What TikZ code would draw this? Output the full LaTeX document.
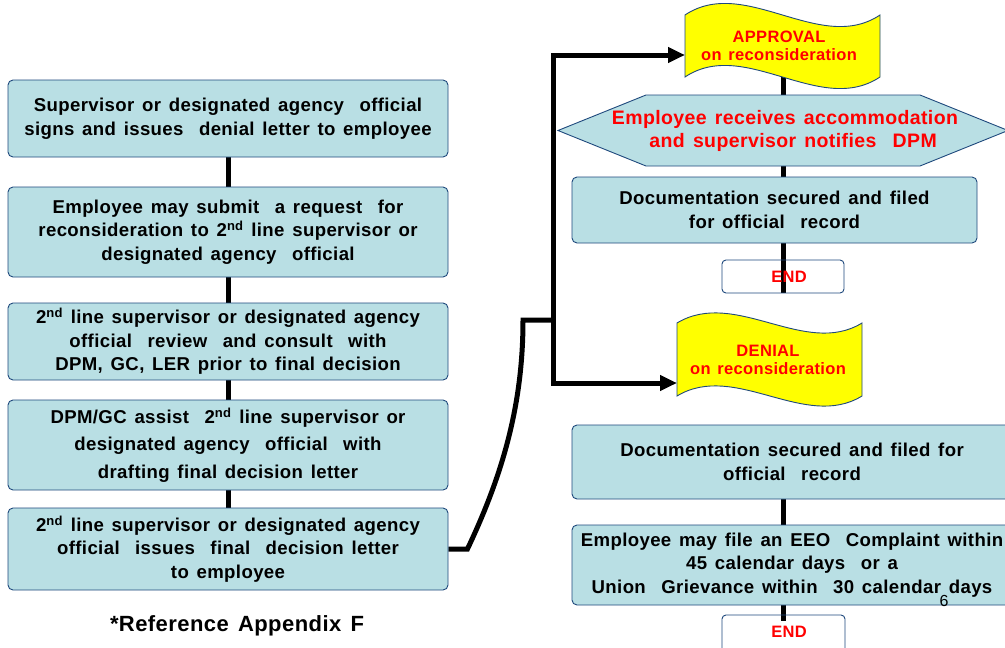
\documentclass[tikz,border=0pt]{standalone}
\usepackage{fontspec}
\setmainfont{Liberation Sans}
\newfontfamily\bx{Liberation Sans}[WordSpace=1.4,LetterSpace=2.0]
\usetikzlibrary{arrows.meta}
\pgfdeclarelayer{paper}
\pgfdeclarelayer{background}
\pgfsetlayers{paper,background,main}
\definecolor{boxfill}{RGB}{185,223,228}
\definecolor{boxline}{RGB}{31,73,125}
\definecolor{flagyel}{RGB}{255,255,0}
\definecolor{txtred}{RGB}{255,0,0}
\begin{document}
\begin{tikzpicture}[x=1pt,y=-1pt,
  proc/.style={draw=boxline,line width=0.9pt,fill=boxfill,rounded corners=5pt,inner sep=0pt,align=center,font=\bx\fontsize{18.6}{23.5}\selectfont\bfseries},
  endbox/.style={draw=boxline,line width=0.9pt,rounded corners=4pt,inner sep=0pt},
  endtxt/.style={text=txtred,inner sep=0pt,font=\bx\fontsize{16.5}{18}\selectfont\bfseries},
  flagbody/.style={draw=boxline,line width=0.9pt,fill=flagyel},
  flagtxt/.style={text=txtred,align=center,inner sep=0pt,font=\bx\fontsize{16.5}{18}\selectfont\bfseries},
  conn/.style={line width=5pt,draw=black},
  tip/.style={-{Triangle[length=17pt,width=15pt]}}
]
\useasboundingbox (0,0) rectangle (1005,648);
\begin{pgfonlayer}{paper}
\fill[white] (0,0) rectangle (1005,648);
\end{pgfonlayer}
\clip (0,0) rectangle (1005,648);

% left column
\node[proc,minimum width=440pt,minimum height=77pt] (b1) at (228,118.5)
  {Supervisor or designated agency\ \ official\\signs and issues\ \ denial letter to employee};
\node[proc,minimum width=440pt,minimum height=90pt] (b2) at (228,232)
  {Employee may submit\ \ a request\ \ for\\reconsideration to 2\textsuperscript{nd} line supervisor or\\designated agency\ \ official};
\node[proc,minimum width=440pt,minimum height=77pt] (b3) at (228,341.5)
  {2\textsuperscript{nd} line supervisor or designated agency\\official\ \ review\ \ and consult\ \ with\\DPM, GC, LER prior to final decision};
\node[proc,minimum width=440pt,minimum height=90pt,font=\bx\fontsize{18.6}{27.5}\selectfont\bfseries] (b4) at (228,445)
  {DPM/GC assist\ \ 2\textsuperscript{nd} line supervisor or\\designated agency\ \ official\ \ with\\drafting final decision letter};
\node[proc,minimum width=440pt,minimum height=82pt] (b5) at (228,549)
  {2\textsuperscript{nd} line supervisor or designated agency\\official\ \ issues\ \ final\ \ decision letter\\to employee};
\node[font=\bx\fontsize{22}{24}\selectfont\bfseries,inner sep=0pt] (ref) at (237,626) {*Reference Appendix F};

% approval flag
\filldraw[flagbody] (685,15) .. controls (745,-25) and (820,55) .. (880,15)
  -- (880,77) .. controls (820,117) and (745,37) .. (685,77) -- cycle;
\node[flagtxt] (appr) at (779,46) {APPROVAL\\on reconsideration};
\coordinate (apin) at (685,55);

% hexagon
\filldraw[draw=boxline,line width=0.9pt,fill=boxfill]
  (558,130.5) -- (646,95) -- (920,95) -- (1008,130.5) -- (920,166) -- (646,166) -- cycle;
\node[minimum width=450pt,minimum height=71pt,inner sep=0pt,align=center,text=txtred,
  font=\bx\fontsize{19.5}{23.5}\selectfont\bfseries] (hex) at (785,131)
  {Employee receives accommodation\\\ \ and supervisor notifies\ \ DPM};

\node[proc,minimum width=405pt,minimum height=66pt] (d1) at (774.5,210)
  {Documentation secured and filed\\for official\ \ record};
\node[endbox,minimum width=122pt,minimum height=33pt] (e1) at (783,276.5) {};
\node[endtxt] (e1t) at (789,277) {END};

% denial flag
\filldraw[flagbody] (677,323) .. controls (735,288) and (805,358) .. (862,323)
  -- (862,396) .. controls (805,431) and (735,361) .. (677,396) -- cycle;
\node[flagtxt] (deny) at (768,359.5) {DENIAL\\on reconsideration};
\coordinate (dnin) at (677,383);

\node[proc,minimum width=440pt,minimum height=74pt] (d2) at (792,462)
  {Documentation secured and filed for\\official\ \ record};
\node[proc,minimum width=440pt,minimum height=80pt] (d3) at (792,565)
  {Employee may file an EEO\ \ Complaint within\\45 calendar days\ \ or a\\Union\ \ Grievance within\ \ 30 calendar days};
\node[endbox,minimum width=123pt,minimum height=45pt] (e2) at (783.5,637.5) {};
\node[endtxt] (e2t) at (789,632) {END};
\node[font=\fontsize{16}{16}\selectfont,inner sep=0pt] (pg) at (944,601) {6};

\coordinate (jn) at (553,320);
\begin{pgfonlayer}{background}
\draw[conn] (b1.center) -- (b5.center);
\draw[conn] (appr.center -| e1.center) -- (e1.south);
\draw[conn] (d2.center -| e2.north) -- ([yshift=-6pt]e2.north);
\draw[conn] (b5.east) -- ++(19,0) .. controls (505,470) and (523,400) .. (523,320) -- (jn);
\draw[conn,tip] (jn) |- (apin);
\draw[conn,tip] (jn) |- (dnin);
\end{pgfonlayer}
\end{tikzpicture}
\end{document}
